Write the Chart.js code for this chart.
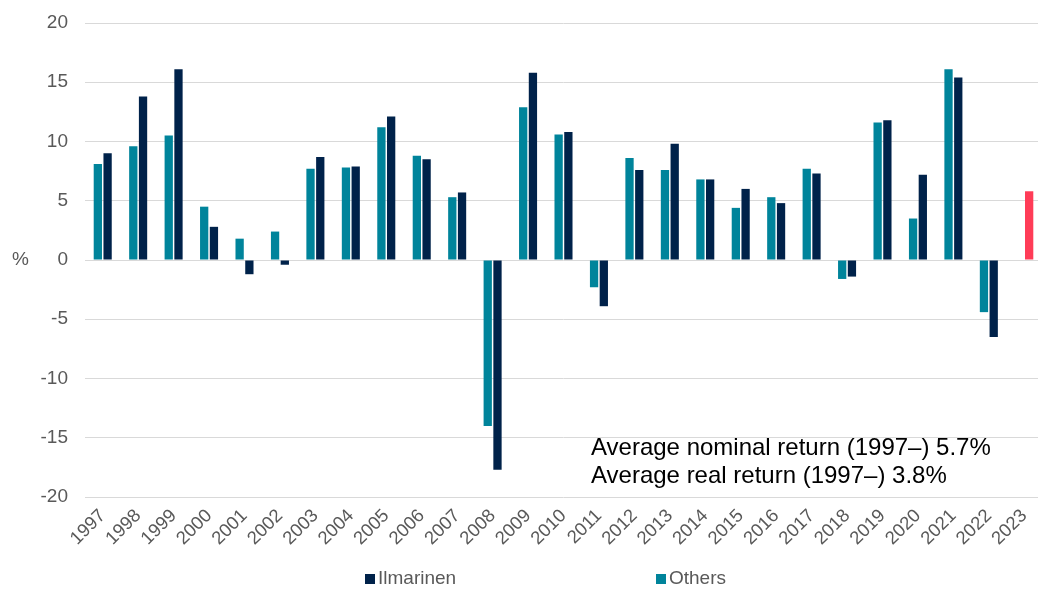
<!DOCTYPE html>
<html><head><meta charset="utf-8">
<script src="https://cdn.jsdelivr.net/npm/chart.js@4/dist/chart.umd.min.js"></script>
<style>html,body{margin:0;padding:0;overflow:hidden;background:#fff}#wrap{width:1048px;height:589px;position:relative}</style>
</head><body><div id="wrap"><canvas id="c"></canvas></div>
<script>
const years = ['1997','1998','1999','2000','2001','2002','2003','2004','2005','2006','2007','2008','2009','2010','2011','2012','2013','2014','2015','2016','2017','2018','2019','2020','2021','2022','2023'];
const others = [8.1, 9.6, 10.5, 4.5, 1.8, 2.4, 7.7, 7.8, 11.2, 8.8, 5.3, -14.0, 12.9, 10.6, -2.3, 8.6, 7.6, 6.8, 4.4, 5.3, 7.7, -1.6, 11.6, 3.5, 16.1, -4.4, null];
const ilmarinen = [9.0, 13.8, 16.1, 2.8, -1.2, -0.4, 8.7, 7.9, 12.1, 8.5, 5.7, -17.7, 15.8, 10.8, -3.9, 7.6, 9.8, 6.8, 6.0, 4.8, 7.3, -1.4, 11.8, 7.2, 15.4, -6.5, 5.8];
const yTicks = [-20, -15, -10, -5, 0, 5, 10, 15, 20];
const notes = ['Average nominal return (1997\u2013) 5.7%', 'Average real return (1997\u2013) 3.8%'];
const yUnit = '%';

const TEAL = '#00849b', NAVY = '#00224a', RED = '#ff3c57', GREY = '#595959';
const FONT = "'Liberation Sans', Arial, sans-serif";
const ilmColors = ilmarinen.map((v, i) => years[i] === '2023' ? RED : NAVY);

const extras = {
  id: 'extras',
  afterDraw(chart) {
    const ctx = chart.ctx;
    const y0 = chart.scales.y.getPixelForValue(0);
    ctx.save();
    ctx.fillStyle = GREY;
    ctx.font = '19px ' + FONT;
    ctx.textAlign = 'left';
    ctx.textBaseline = 'middle';
    ctx.fillText(yUnit, 12, y0);
    ctx.fillStyle = '#000';
    ctx.font = '24px ' + FONT;
    ctx.textBaseline = 'alphabetic';
    ctx.fillText(notes[0], 591, 455);
    ctx.fillText(notes[1], 591, 483);
    const items = [
      {label: chart.data.datasets[1].label, color: NAVY, x: 365},
      {label: chart.data.datasets[0].label, color: TEAL, x: 656}
    ];
    ctx.font = '19px ' + FONT;
    ctx.textBaseline = 'middle';
    items.forEach(it => {
      ctx.fillStyle = it.color;
      ctx.fillRect(it.x, 574, 10, 10);
      ctx.fillStyle = GREY;
      ctx.fillText(it.label, it.x + 13, 579);
    });
    ctx.restore();
  }
};

new Chart(document.getElementById('c'), {
  type: 'bar',
  data: {
    labels: years,
    datasets: [
      {label: 'Others', data: others, backgroundColor: TEAL, categoryPercentage: 0.55, barPercentage: 0.85},
      {label: 'Ilmarinen', data: ilmarinen, backgroundColor: ilmColors, categoryPercentage: 0.55, barPercentage: 0.85}
    ]
  },
  options: {
    responsive: true,
    maintainAspectRatio: false,
    animation: false,
    devicePixelRatio: 1,
    layout: {padding: {top: 23, left: 0, right: 1, bottom: 0}},
    plugins: {legend: {display: false}, tooltip: {enabled: false}},
    scales: {
      x: {
        grid: {display: false, drawTicks: false},
        border: {display: false},
        ticks: {autoSkip: false, maxRotation: 45, minRotation: 45, color: GREY, font: {family: FONT, size: 18.5}, padding: 8},
        afterFit(s) { s.height = 92; s.paddingTop = 0; }
      },
      y: {
        min: -20, max: 20,
        afterBuildTicks(s) { s.ticks = yTicks.map(v => ({value: v})); },
        grid: {color: '#d9d9d9', lineWidth: 1, drawTicks: false},
        border: {display: false},
        ticks: {color: GREY, font: {family: FONT, size: 19}, padding: 17},
        afterFit(s) { s.width = 85; s.paddingTop = 0; s.paddingBottom = 0; }
      }
    }
  },
  plugins: [extras]
});
</script></body></html>
